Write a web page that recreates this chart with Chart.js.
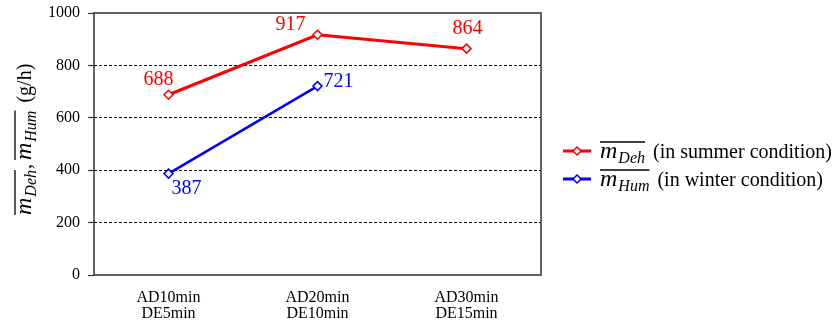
<!DOCTYPE html>
<html><head><meta charset="utf-8">
<script src="https://cdn.jsdelivr.net/npm/chart.js@4/dist/chart.umd.min.js"></script>
<style>html,body{margin:0;padding:0;background:#fff;}#wrap{width:836px;height:323px;position:relative;}</style>
</head><body><div id="wrap"><canvas id="c" width="836" height="323"></canvas></div>
<script>
const categories = [['AD10min','DE5min'], ['AD20min','DE10min'], ['AD30min','DE15min']];
const deh = [688, 917, 864];
const hum = [387, 721, null];
const yTicks = [0, 200, 400, 600, 800, 1000];
// label offsets (dx, dy) relative to points: style only
const dehLabelOffsets = [[-10,-10],[-27,-5],[1,-15]];
const humLabelOffsets = [[18,20],[21,1],[0,0]];

const SERIF = "'Liberation Serif','Times New Roman',serif";

function drawMathLabel(ctx, x, y, sub, rest, color) {
  ctx.save();
  ctx.fillStyle = color || '#000';
  ctx.textBaseline = 'alphabetic';
  ctx.textAlign = 'left';
  ctx.font = 'italic 24px ' + SERIF;
  const mW = ctx.measureText('m').width;
  ctx.fillText('m', x, y);
  ctx.font = 'italic 16px ' + SERIF;
  const sW = ctx.measureText(sub).width;
  ctx.fillText(sub, x + mW + 1, y + 5);
  const endX = x + mW + 1 + sW;
  ctx.strokeStyle = color || '#000';
  ctx.lineWidth = 1.3;
  ctx.beginPath();
  ctx.moveTo(x, y - 16);
  ctx.lineTo(endX, y - 16);
  ctx.stroke();
  let cx = endX + 3;
  if (rest) {
    ctx.font = '20px ' + SERIF;
    ctx.fillText(rest, cx, y);
    cx += ctx.measureText(rest).width;
  }
  ctx.restore();
  return cx;
}

const extras = {
  id: 'extras',
  afterDatasetsDraw(chart) {
    const ctx = chart.ctx;
    const a = chart.chartArea;
    ctx.save();
    ctx.strokeStyle = '#333';
    ctx.lineWidth = 1.5;
    ctx.strokeRect(a.left, a.top, a.right - a.left, a.bottom - a.top);
    ctx.restore();
    ctx.save();
    ctx.font = '20px ' + SERIF;
    ctx.textAlign = 'center';
    ctx.textBaseline = 'alphabetic';
    const sets = [[0, deh, dehLabelOffsets, '#FF0000'], [1, hum, humLabelOffsets, '#0000FF']];
    sets.forEach(([di, vals, offs, col]) => {
      const meta = chart.getDatasetMeta(di);
      ctx.fillStyle = col;
      vals.forEach((v, i) => {
        if (v === null) return;
        const p = meta.data[i];
        ctx.fillText(String(v), p.x + offs[i][0], p.y + offs[i][1]);
      });
    });
    ctx.restore();
    const legendItems = [['Deh', ' (in summer condition)', '#FF0000', 158], ['Hum', ' (in winter condition)', '#0000FF', 186]];
    legendItems.forEach(([sub, rest, col, y]) => {
      const ly = y - 7;
      ctx.save();
      ctx.strokeStyle = col;
      ctx.lineWidth = 3;
      ctx.beginPath();
      ctx.moveTo(563, ly); ctx.lineTo(591, ly); ctx.stroke();
      ctx.lineWidth = 1.5;
      ctx.fillStyle = '#fff';
      ctx.beginPath();
      ctx.moveTo(577, ly - 4); ctx.lineTo(581, ly); ctx.lineTo(577, ly + 4); ctx.lineTo(573, ly); ctx.closePath();
      ctx.fill(); ctx.stroke();
      ctx.restore();
      drawMathLabel(ctx, 600, y, sub, rest, '#000');
    });
    ctx.save();
    ctx.translate(31, 215);
    ctx.rotate(-Math.PI / 2);
    let x = drawMathLabel(ctx, 0, 0, 'Deh', null, '#000');
    ctx.font = '20px ' + SERIF;
    ctx.fillStyle = '#000';
    ctx.fillText(',', x - 2, 0);
    x += ctx.measureText(', ').width - 3;
    x = drawMathLabel(ctx, x, 0, 'Hum', ' (g/h)', '#000');
    ctx.restore();
  }
};

new Chart(document.getElementById('c'), {
  type: 'line',
  data: {
    labels: categories,
    datasets: [
      { label: 'Deh', data: deh, borderColor: '#FF0000', borderWidth: 3, pointStyle: 'rectRot', pointRadius: 4.5,
        pointBackgroundColor: '#fff', pointBorderColor: '#FF0000', pointBorderWidth: 1.5, tension: 0 },
      { label: 'Hum', data: hum, borderColor: '#0000FF', borderWidth: 2.5, pointStyle: 'rectRot', pointRadius: 4.5,
        pointBackgroundColor: '#fff', pointBorderColor: '#0000FF', pointBorderWidth: 1.5, tension: 0 }
    ]
  },
  options: {
    responsive: false,
    animation: false,
    devicePixelRatio: 1,
    layout: { padding: { left: 0, right: 295, top: 13, bottom: 0 } },
    plugins: { legend: { display: false }, tooltip: { enabled: false } },
    scales: {
      x: {
        offset: true,
        grid: { display: false, drawTicks: false },
        border: { display: false },
        ticks: { color: '#000', font: { family: SERIF, size: 16, lineHeight: 1.05 }, padding: 14, maxRotation: 0 },
        afterFit: s => { s.height = 48; s.paddingLeft = 0; s.paddingRight = 0; }
      },
      y: {
        min: 0, max: 1000,
        afterBuildTicks: s => { s.ticks = yTicks.map(v => ({ value: v })); },
        grid: {
          color: c => (c.tick && (c.tick.value === 0 || c.tick.value === 1000)) ? 'rgba(0,0,0,0)' : '#000',
          lineWidth: 1,
          tickColor: '#333', tickLength: 6, tickWidth: 1.2
        },
        border: { display: false, dash: [3, 2] },
        ticks: { color: '#000', font: { family: SERIF, size: 16 }, padding: 8, callback: v => String(v) },
        afterFit: s => { s.width = 94; s.paddingTop = 0; s.paddingBottom = 0; }
      }
    }
  },
  plugins: [extras]
});
</script>
</body></html>
